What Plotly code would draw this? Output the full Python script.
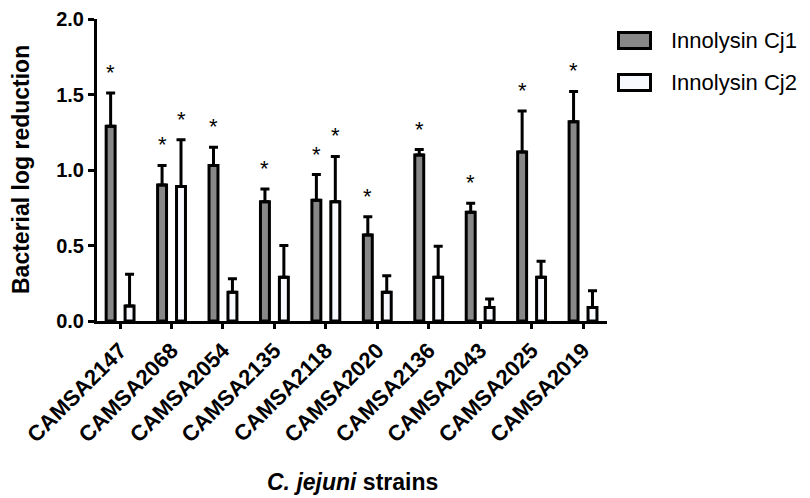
import plotly.graph_objects as go

categories = ["CAMSA2147", "CAMSA2068", "CAMSA2054", "CAMSA2135", "CAMSA2118",
              "CAMSA2020", "CAMSA2136", "CAMSA2043", "CAMSA2025", "CAMSA2019"]
cj1 = [1.29, 0.90, 1.03, 0.79, 0.80, 0.57, 1.10, 0.72, 1.12, 1.32]
cj1_err = [0.22, 0.13, 0.12, 0.085, 0.17, 0.12, 0.035, 0.06, 0.27, 0.20]
cj2 = [0.10, 0.89, 0.19, 0.29, 0.79, 0.19, 0.29, 0.09, 0.29, 0.09]
cj2_err = [0.21, 0.31, 0.09, 0.21, 0.30, 0.11, 0.205, 0.055, 0.105, 0.11]
sig1 = [True] * 10
sig2 = [False, True, False, False, True, False, False, False, False, False]
series_names = ["Innolysin Cj1", "Innolysin Cj2"]
y_ticks = [0.0, 0.5, 1.0, 1.5, 2.0]

FONT = "Arial, Liberation Sans, Helvetica, sans-serif"
GRAY = "#888888"
WHITE = "#f7f9ff"
W = 0.174
OFF = 0.184

fig = go.Figure()
for vals, errs, color, center in [(cj1, cj1_err, GRAY, -OFF), (cj2, cj2_err, WHITE, OFF)]:
    fig.add_trace(go.Bar(
        x=categories, y=vals, width=W, offset=center - W / 2,
        marker=dict(color=color, line=dict(color="black", width=3)),
        error_y=dict(type="data", array=errs, arrayminus=[0] * len(errs), symmetric=False,
                     color="black", thickness=3, width=4.5),
        showlegend=False, hoverinfo="skip",
    ))

annotations = []
for i in range(len(categories)):
    for vals, errs, sig, center in [(cj1, cj1_err, sig1, -OFF), (cj2, cj2_err, sig2, OFF)]:
        if sig[i]:
            annotations.append(dict(
                x=i + center, y=vals[i] + errs[i], xref="x", yref="y",
                text="*", showarrow=False, yanchor="bottom", yshift=6,
                font=dict(family=FONT, size=22, color="black"),
            ))

# plot area in page pixels: x 97..607, y 19..321
def px(xp):
    return (xp - 97) / 510

def py(yp):
    return (321 - yp) / 302

annotations.append(dict(
    x=px(352), y=py(482), xref="paper", yref="paper",
    text="<b><i>C. jejuni</i> strains</b>", showarrow=False,
    xanchor="center", yanchor="middle",
    font=dict(family=FONT, size=23, color="black"),
))
annotations.append(dict(
    x=px(21), y=0.5, xref="paper", yref="paper",
    text="<b>Bacterial log reduction</b>", showarrow=False, textangle=-90,
    xanchor="center", yanchor="middle",
    font=dict(family=FONT, size=23, color="black"),
))

shapes = []
legend_rows = [(40.5, GRAY), (82.5, WHITE)]
for (cy, color), name in zip(legend_rows, series_names):
    shapes.append(dict(
        type="rect", xref="paper", yref="paper",
        x0=px(618.5), x1=px(650.5), y0=py(cy + 8), y1=py(cy - 8),
        fillcolor=color, line=dict(color="black", width=3),
    ))
    annotations.append(dict(
        x=px(669), y=py(cy), xref="paper", yref="paper",
        text=name, showarrow=False, xanchor="left", yanchor="middle",
        font=dict(family=FONT, size=22, color="black"),
    ))

fig.update_layout(
    width=810, height=498,
    margin=dict(l=97, r=203, t=19, b=177),
    plot_bgcolor="white", paper_bgcolor="white",
    barmode="overlay",
    font=dict(family=FONT, color="black"),
    annotations=annotations, shapes=shapes,
    hovermode=False,
    xaxis=dict(
        type="category", range=[-0.449, 9.466],
        showline=True, linecolor="black", linewidth=3,
        ticks="outside", ticklen=5, tickwidth=3, tickcolor="black",
        tickangle=-45, tickfont=dict(family=FONT, size=22, color="black", weight="bold"),
        showgrid=False, zeroline=False, automargin=False,
    ),
    yaxis=dict(
        range=[0, 2.0], tickvals=y_ticks, ticktext=[f"{v:.1f}" for v in y_ticks],
        showline=True, linecolor="black", linewidth=3,
        ticks="outside", ticklen=6, tickwidth=3, tickcolor="black",
        tickfont=dict(family=FONT, size=20, color="black", weight="bold"),
        showgrid=False, zeroline=False, automargin=False,
    ),
)

# remove the default page margin so the figure sits at the window's top-left corner
fig.write_html("out.html", config={"displayModeBar": False, "staticPlot": True},
               post_script="document.body.style.margin='0';")
